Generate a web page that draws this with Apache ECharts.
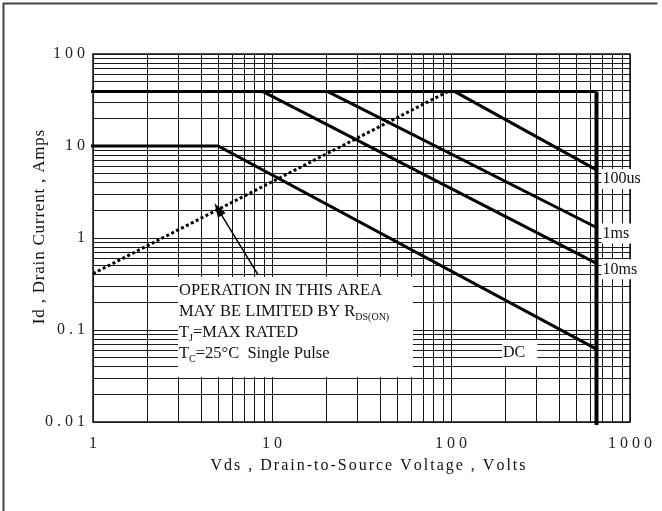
<!DOCTYPE html>
<html><head><meta charset="utf-8">
<script src="https://cdn.jsdelivr.net/npm/echarts@6/dist/echarts.min.js"></script>
<style>html,body{margin:0;padding:0;background:#fff}#c{width:662px;height:511px}</style>
</head><body><div id="c"></div>
<script>
// ---- data ----
const xTickLabels = ['1', '10', '100', '1000'];
const yTickLabels = ['0.01', '0.1', '1', '10', '100'];
const gridXValues = [1,2,3,4,5,6,7,8,9,10,20,30,40,50,60,70,80,90,100,200,300,400,500,600,700,800,900,1000];
const gridYValues = [0.01,0.02,0.03,0.04,0.05,0.06,0.07,0.08,0.09,0.1,0.2,0.3,0.4,0.5,0.6,0.7,0.8,0.9,1,2,3,4,5,6,7,8,9,10,20,30,40,50,60,70,80,90,100];
const limitTop = [[0.96, 39], [650, 39]];
const limitRight = [[650, 39], [650, 0.0093]];
const pulse100us = [[105, 39], [650, 5.5]];
const pulse1ms = [[20.5, 39], [650, 1.3]];
const pulse10ms = [[8.9, 39], [650, 0.53]];
const dcLine = [[0.96, 10], [5, 10], [650, 0.062]];
const rdsLine = [[1, 0.41], [96, 39]];
const arrowTail = [8.35, 0.40];
const arrowHead = [5.0, 2.05];
const curveLabels = ['100us', '1ms', '10ms'];

const FONT = '"Liberation Serif","Times New Roman",serif';
function spaced(s, cls) {
  return s.split('').map(ch => '{' + cls + '|' + ch + '}').join('');
}
const chart = echarts.init(document.getElementById('c'), null, {renderer: 'canvas'});
function seg(data, lw, extra) {
  return Object.assign({
    type: 'line', data: data, symbol: 'none', clip: false, z: 5,
    lineStyle: {color: '#000', width: lw, cap: 'butt', join: 'miter'},
    emphasis: {disabled: true}, silent: true, animation: false
  }, extra || {});
}
function endLab(txt, dy) {
  return {show: true, formatter: txt, distance: 5, offset: [0, dy],
    color: '#111', fontFamily: FONT, fontSize: 16,
    backgroundColor: '#fff', padding: [2, 4, 2, 1]};
}
const option = {
  backgroundColor: '#fff',
  animation: false,
  grid: {left: 93, top: 54, width: 537, height: 368, show: true, borderColor: '#111', borderWidth: 1.5, backgroundColor: 'transparent'},
  xAxis: {
    type: 'log', logBase: 10, min: 1, max: 1000,
    axisLine: {show: false}, axisTick: {show: false}, splitLine: {show: false},
    axisLabel: {margin: 14, color: '#222',
      formatter: v => { const i = Math.round(Math.log10(v)); return spaced(xTickLabels[i], 't'); },
      rich: {t: {fontFamily: FONT, fontSize: 16, color: '#222', padding: [0, 2, 0, 2]}}}
  },
  yAxis: {
    type: 'log', logBase: 10, min: 0.01, max: 100,
    axisLine: {show: false}, axisTick: {show: false}, splitLine: {show: false},
    axisLabel: {margin: 6, color: '#222',
      formatter: v => { const i = Math.round(Math.log10(v)) + 2; return spaced(yTickLabels[i], 't'); },
      rich: {t: {fontFamily: FONT, fontSize: 16, color: '#222', padding: [0, 2, 0, 2]}}}
  },
  series: [
    {type: 'line', data: [], z: 1, silent: true,
      markLine: {silent: true, symbol: ['none', 'none'], label: {show: false}, animation: false,
        lineStyle: {color: '#1a1a1a', width: 1, type: 'solid'}, emphasis: {disabled: true},
        data: gridXValues.map(v => ({xAxis: v})).concat(gridYValues.map(v => ({yAxis: v})))}},
    seg(limitTop, 3),
    seg(limitRight, 4),
    seg(pulse100us, 3, {endLabel: endLab(curveLabels[0], 9)}),
    seg(pulse1ms, 3, {endLabel: endLab(curveLabels[1], 6)}),
    seg(pulse10ms, 3, {endLabel: endLab(curveLabels[2], 6)}),
    seg(dcLine, 3),
    seg(rdsLine, 3, {lineStyle: {color: '#000', width: 3, type: [3, 2.5], cap: 'butt'}}),
    {type: 'line', data: [], z: 6, silent: true,
      markLine: {silent: true, animation: false, symbol: ['none', 'triangle'], symbolSize: [9, 14],
        label: {show: false}, emphasis: {disabled: true},
        lineStyle: {color: '#000', width: 1.5, type: 'solid'},
        data: [[{coord: arrowTail}, {coord: arrowHead}]]}}
  ],
  graphic: [
    {type: 'rect', z: 100, shape: {x: 178, y: 277, width: 235, height: 100}, style: {fill: '#fff'}},
    {type: 'text', z: 101, x: 179, y: 280, style: {
      text: '{a|OPERATION IN THIS AREA}\n{a|MAY BE LIMITED BY R}{s|DS(ON)}\n{a|T}{s|J}{a|=MAX RATED}\n{a|T}{s|C}{a|=25°C  Single Pulse}',
      rich: {
        a: {fontFamily: FONT, fontSize: 16.5, lineHeight: 21, fill: '#111', verticalAlign: 'middle'},
        s: {fontFamily: FONT, fontSize: 10, lineHeight: 21, fill: '#111', verticalAlign: 'bottom'}
      }}},
    {type: 'text', z: 101, x: 502, y: 353, style: {
      text: 'DC', fontFamily: FONT, fontSize: 16, fill: '#111', verticalAlign: 'middle', align: 'left',
      backgroundColor: '#fff', padding: [5, 12, 5, 1]}},
    {type: 'text', z: 101, x: 40, y: 227, rotation: Math.PI / 2, style: {
      text: spaced('Id , Drain Current , Amps', 'y'), align: 'center', verticalAlign: 'middle',
      rich: {y: {fontFamily: FONT, fontSize: 17, fill: '#111', padding: [0, 0.4, 0, 0.4]}}}},
    {type: 'text', z: 101, x: 368, y: 466, style: {
      text: spaced('Vds , Drain-to-Source Voltage , Volts', 'x'), align: 'center', verticalAlign: 'middle',
      rich: {x: {fontFamily: FONT, fontSize: 16, fill: '#111', padding: [0, 1, 0, 1]}}}},
    {type: 'polyline', z: 101, shape: {points: [[3.5, 511], [3.5, 3.5], [657.5, 3.5]]}, style: {stroke: '#444', lineWidth: 2, fill: null}}
  ]
};
chart.setOption(option);
</script></body></html>
